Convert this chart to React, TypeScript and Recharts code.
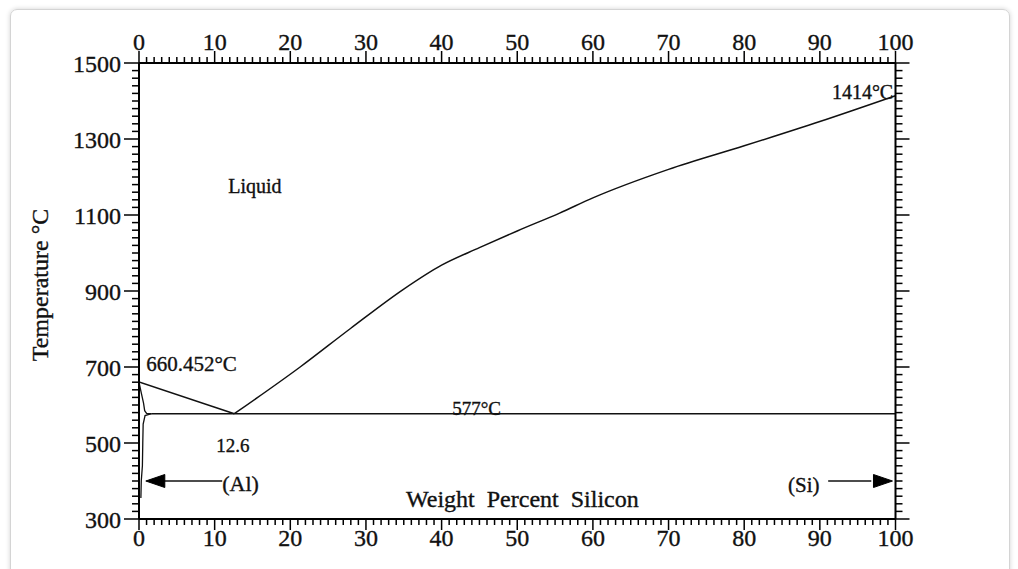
import React from 'react';
import { ComposedChart, Line, XAxis, YAxis, ReferenceDot } from 'recharts';

// Phase boundaries (x = wt% Si, y = temperature °C)
const liquidusAl = [
  { x: 0, y: 660.452 },
  { x: 12.6, y: 577 },
];
const liquidusSi = [
  { x: 12.6, y: 577 },
  { x: 21.3, y: 700 },
  { x: 28, y: 802 },
  { x: 35, y: 905 },
  { x: 40, y: 968 },
  { x: 45, y: 1014 },
  { x: 50, y: 1058 },
  { x: 55.6, y: 1105 },
  { x: 60, y: 1145 },
  { x: 70, y: 1220 },
  { x: 80, y: 1282 },
  { x: 90, y: 1346 },
  { x: 100, y: 1414 },
];
const eutectic = [
  { x: 1.65, y: 577 },
  { x: 100, y: 577 },
];
const solidus = [
  { x: 0, y: 660.452 },
  { x: 0.3, y: 632 },
  { x: 0.6, y: 605 },
  { x: 0.75, y: 585 },
  { x: 1.0, y: 578 },
  { x: 1.65, y: 577 },
];
const solvus = [
  { x: 1.65, y: 577 },
  { x: 0.8, y: 572 },
  { x: 0.55, y: 550 },
  { x: 0.5, y: 500 },
  { x: 0.45, y: 440 },
  { x: 0.3, y: 400 },
  { x: 0.25, y: 355 },
];
const arrowAl = [
  { x: 11.0, y: 400 },
  { x: 3.3, y: 400 },
];
const arrowSi = [
  { x: 91.1, y: 400 },
  { x: 96.8, y: 400 },
];
const arrowHeads = [
  { x: 0.9, y: 400, dir: -1 },
  { x: 99.6, y: 400, dir: 1 },
];

// Tick values
const xTicks = Array.from({ length: 101 }, (_, i) => i);
const yTicks = Array.from({ length: 61 }, (_, i) => 300 + i * 20);

// Annotations (positions in data units)
const notes = [
  { x: 11.8, y: 1158, text: 'Liquid', size: 20, anchor: 'start' },
  { x: 0.95, y: 689, text: '660.452°C', size: 21, anchor: 'start' },
  { x: 99.7, y: 1406, text: '1414°C', size: 20, anchor: 'end' },
  { x: 41.4, y: 574, text: '577°C', size: 19, anchor: 'start' },
  { x: 10.2, y: 476, text: '12.6', size: 19, anchor: 'start' },
  { x: 11.0, y: 374, text: '(Al)', size: 22, anchor: 'start' },
  { x: 85.8, y: 372, text: '(Si)', size: 21, anchor: 'start' },
  { x: 35.3, y: 332, text: 'Weight  Percent  Silicon', size: 24, anchor: 'start' },
];

const FONT = '"Liberation Serif", "Times New Roman", serif';
const TXT = { fontFamily: FONT, fill: '#111', stroke: '#111', strokeWidth: 0.35 };

const TopTick = (p: any) => {
  const { x, y, payload } = p;
  const v = payload.value;
  const major = v % 10 === 0;
  return (
    <g>
      <line x1={x} x2={x} y1={y} y2={y - (major ? 12 : 6)} stroke="#000" strokeWidth={1.5} />
      {major && (
        <text x={x} y={y - 13} textAnchor="middle" fontSize={24} {...TXT}>
          {v}
        </text>
      )}
    </g>
  );
};

const BottomTick = (p: any) => {
  const { x, y, payload } = p;
  const v = payload.value;
  const major = v % 10 === 0;
  return (
    <g>
      <line x1={x} x2={x} y1={y} y2={y + (major ? 11 : 6)} stroke="#000" strokeWidth={1.5} />
      {major && (
        <text x={x} y={y + 27} textAnchor="middle" fontSize={24} {...TXT}>
          {v}
        </text>
      )}
    </g>
  );
};

const LeftTick = (p: any) => {
  const { x, y, payload } = p;
  const v = payload.value;
  const major = (v - 300) % 200 === 0;
  return (
    <g>
      <line x1={x} x2={x - (major ? 15 : 7)} y1={y} y2={y} stroke="#000" strokeWidth={1.5} />
      {major && (
        <text x={x - 18} y={y} dy="0.36em" textAnchor="end" fontSize={24} {...TXT}>
          {v}
        </text>
      )}
    </g>
  );
};

const RightTick = (p: any) => {
  const { x, y, payload } = p;
  const v = payload.value;
  const major = (v - 300) % 200 === 0;
  return (
    <g>
      <line x1={x} x2={x + (major ? 14 : 7)} y1={y} y2={y} stroke="#000" strokeWidth={1.5} />
    </g>
  );
};

const YTitle = (p: any) => {
  const vb = p.viewBox || { x: 0, y: 63, width: 139, height: 456 };
  const cx = vb.x + 40;
  const cy = vb.y + vb.height / 2 - 6;
  return (
    <text
      x={cx}
      y={cy}
      transform={`rotate(-90 ${cx} ${cy})`}
      textAnchor="middle"
      dominantBaseline="central"
      fontSize={24}
      {...TXT}
    >
      Temperature °C
    </text>
  );
};

export default function App() {
  return (
    <div style={{ position: 'absolute', left: 0, top: 0, width: 1018, height: 569, background: '#fff' }}>
      <div
        style={{
          position: 'absolute',
          left: 10,
          top: 9,
          width: 1000,
          height: 570,
          border: '1px solid #d4d4d4',
          borderRadius: 7,
          boxShadow: '0 0 5px rgba(0,0,0,0.18)',
          boxSizing: 'border-box',
        }}
      />
      <div style={{ position: 'absolute', left: 0, top: 0 }}>
        <ComposedChart width={1018} height={569} margin={{ top: 0, right: 0, bottom: 0, left: 0 }}>
          <XAxis
            xAxisId="bottom"
            type="number"
            dataKey="x"
            orientation="bottom"
            domain={[0, 100]}
            ticks={xTicks}
            interval={0}
            height={50}
            tickSize={0}
            tickMargin={0}
            tickLine={false}
            tick={<BottomTick />}
            axisLine={{ stroke: '#000', strokeWidth: 2 }}
            allowDataOverflow
          />
          <XAxis
            xAxisId="top"
            type="number"
            dataKey="x"
            orientation="top"
            domain={[0, 100]}
            ticks={xTicks}
            interval={0}
            height={63}
            tickSize={0}
            tickMargin={0}
            tickLine={false}
            tick={<TopTick />}
            axisLine={{ stroke: '#000', strokeWidth: 2 }}
            allowDataOverflow
          />
          <YAxis
            yAxisId="left"
            type="number"
            orientation="left"
            domain={[300, 1500]}
            ticks={yTicks}
            interval={0}
            width={139}
            tickSize={0}
            tickMargin={0}
            tickLine={false}
            tick={<LeftTick />}
            axisLine={{ stroke: '#000', strokeWidth: 2 }}
            label={{ content: <YTitle /> }}
            allowDataOverflow
          />
          <YAxis
            yAxisId="right"
            type="number"
            orientation="right"
            domain={[300, 1500]}
            ticks={yTicks}
            interval={0}
            width={122.5}
            tickSize={0}
            tickMargin={0}
            tickLine={false}
            tick={<RightTick />}
            axisLine={{ stroke: '#000', strokeWidth: 2 }}
            allowDataOverflow
          />

          <Line data={eutectic} xAxisId="top" yAxisId="right" dataKey="y" type="linear" stroke="#111" strokeWidth={1.6} dot={false} isAnimationActive={false} />
          <Line data={liquidusAl} xAxisId="bottom" yAxisId="left" dataKey="y" type="linear" stroke="#111" strokeWidth={1.5} dot={false} isAnimationActive={false} />
          <Line data={liquidusSi} xAxisId="bottom" yAxisId="left" dataKey="y" type="monotone" stroke="#111" strokeWidth={1.5} dot={false} isAnimationActive={false} />
          <Line data={solidus} xAxisId="bottom" yAxisId="left" dataKey="y" type="linear" stroke="#111" strokeWidth={1.3} dot={false} isAnimationActive={false} />
          <Line data={solvus} xAxisId="bottom" yAxisId="left" dataKey="y" type="linear" stroke="#111" strokeWidth={1.3} dot={false} isAnimationActive={false} />
          <Line data={arrowAl} xAxisId="bottom" yAxisId="left" dataKey="y" type="linear" stroke="#111" strokeWidth={1.5} dot={false} isAnimationActive={false} />
          <Line data={arrowSi} xAxisId="bottom" yAxisId="left" dataKey="y" type="linear" stroke="#111" strokeWidth={1.5} dot={false} isAnimationActive={false} />

          {arrowHeads.map((a, i) => (
            <ReferenceDot
              key={'ah' + i}
              x={a.x}
              y={a.y}
              xAxisId="bottom"
              yAxisId="left"
              ifOverflow="visible"
              shape={(p: any) => {
                const { cx, cy } = p;
                const d = a.dir;
                const pts = `${cx},${cy} ${cx - d * 19},${cy - 6.5} ${cx - d * 19},${cy + 6.5}`;
                return <polygon points={pts} fill="#000" stroke="#000" strokeWidth={1} />;
              }}
            />
          ))}

          {notes.map((n, i) => (
            <ReferenceDot
              key={'n' + i}
              x={n.x}
              y={n.y}
              xAxisId="bottom"
              yAxisId="left"
              ifOverflow="visible"
              shape={(p: any) => (
                <text
                  x={p.cx}
                  y={p.cy}
                  textAnchor={n.anchor as any}
                  fontSize={n.size}
                  {...TXT}
                  style={{ whiteSpace: 'pre' }}
                >
                  {n.text}
                </text>
              )}
            />
          ))}
        </ComposedChart>
      </div>
    </div>
  );
}
